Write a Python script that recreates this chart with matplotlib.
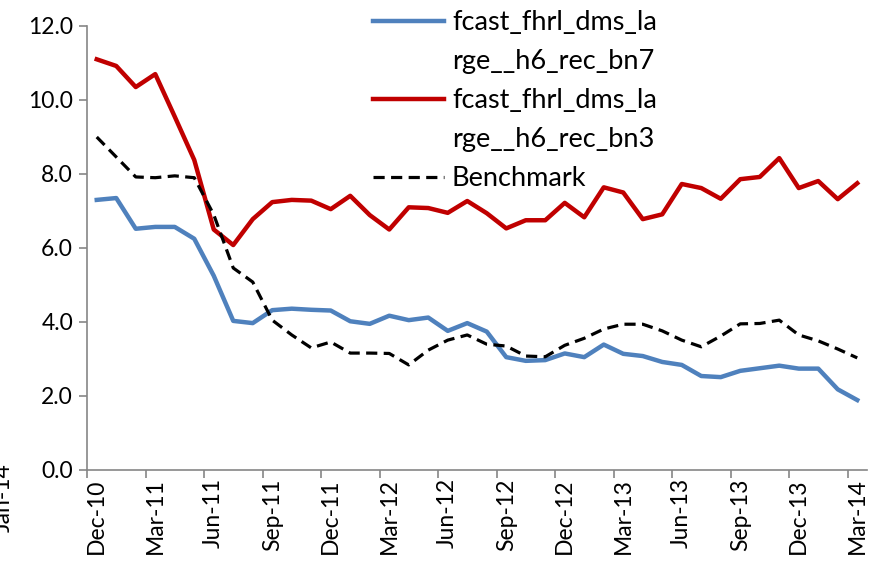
import matplotlib
matplotlib.use("Agg")
import matplotlib.pyplot as plt
from matplotlib.lines import Line2D
import numpy as np

plt.rcParams['font.family'] = ['Lato', 'DejaVu Sans']

# monthly, Dec-10 .. Mar-14
months = ['Dec-10', 'Jan-11', 'Feb-11', 'Mar-11', 'Apr-11', 'May-11', 'Jun-11', 'Jul-11',
          'Aug-11', 'Sep-11', 'Oct-11', 'Nov-11', 'Dec-11', 'Jan-12', 'Feb-12', 'Mar-12',
          'Apr-12', 'May-12', 'Jun-12', 'Jul-12', 'Aug-12', 'Sep-12', 'Oct-12', 'Nov-12',
          'Dec-12', 'Jan-13', 'Feb-13', 'Mar-13', 'Apr-13', 'May-13', 'Jun-13', 'Jul-13',
          'Aug-13', 'Sep-13', 'Oct-13', 'Nov-13', 'Dec-13', 'Jan-14', 'Feb-14', 'Mar-14']

bn7 = [7.30, 7.35, 6.52, 6.57, 6.57, 6.25, 5.25, 4.03, 3.97, 4.32,
       4.36, 4.33, 4.31, 4.02, 3.95, 4.17, 4.05, 4.12, 3.76, 3.97,
       3.74, 3.05, 2.95, 2.97, 3.15, 3.05, 3.39, 3.14, 3.08, 2.92,
       2.84, 2.54, 2.51, 2.68, 2.75, 2.82, 2.74, 2.74, 2.18, 1.89]

bn3 = [11.10, 10.92, 10.35, 10.70, 9.55, 8.38, 6.50, 6.08, 6.78, 7.24,
       7.30, 7.28, 7.05, 7.41, 6.89, 6.50, 7.10, 7.08, 6.95, 7.27,
       6.94, 6.53, 6.75, 6.75, 7.22, 6.83, 7.64, 7.50, 6.78, 6.91,
       7.73, 7.62, 7.33, 7.86, 7.92, 8.43, 7.62, 7.81, 7.32, 7.75]

bench = [9.00, 8.46, 7.92, 7.90, 7.95, 7.90, 6.90, 5.46, 5.08, 4.05,
         3.65, 3.30, 3.46, 3.16, 3.16, 3.15, 2.84, 3.24, 3.51, 3.65,
         3.40, 3.35, 3.08, 3.06, 3.37, 3.56, 3.81, 3.94, 3.94, 3.76,
         3.51, 3.33, 3.62, 3.95, 3.96, 4.05, 3.65, 3.49, 3.27, 3.03]

# legend text wraps like the original (handle sits on the first line)
legend_rows = ['fcast_fhrl_dms_la', 'rge__h6_rec_bn7',
               'fcast_fhrl_dms_la', 'rge__h6_rec_bn3',
               'Benchmark']

fig = plt.figure(figsize=(8.74, 5.70), dpi=100)
ax = fig.add_axes([87/874, 100/570, 780/874, 444/570])

x = np.arange(len(months))
l1, = ax.plot(x, bn7, color='#4F81BD', lw=3.2, solid_joinstyle='round')
l2, = ax.plot(x, bn3, color='#C00000', lw=3.2, solid_joinstyle='round')
l3, = ax.plot(x, bench, color='black', lw=2.3, linestyle=(0, (3.5, 2)))

ax.set_xlim(-0.5, len(months) - 0.5)
ax.set_ylim(0, 12)
yt = np.arange(0, 12.1, 2)
ax.set_yticks(yt)
ax.set_yticklabels(['%.1f' % v for v in yt], fontsize=16.5)

ax.set_xticks(x[::3])
ax.set_xticklabels(months[::3], rotation=90, fontsize=16.5)
ax.tick_params(axis='x', which='major', length=0, pad=6)
ax.set_xticks(np.arange(-0.5, len(months), 3), minor=True)
ax.tick_params(axis='x', which='minor', length=6, color='#868686', width=1.2)
ax.tick_params(axis='y', length=6, color='#868686', width=1.2, pad=4)

for s in ['top', 'right']:
    ax.spines[s].set_visible(False)
for s in ['left', 'bottom']:
    ax.spines[s].set_color('#868686')
    ax.spines[s].set_linewidth(1.2)

blank = Line2D([], [], color='none')
fig.legend([l1, blank, l2, blank, l3], legend_rows, loc='upper left',
           bbox_to_anchor=(349/874, 1.025), frameon=False, fontsize=19.5,
           handlelength=2.6, handletextpad=0.3, labelspacing=0.52)

# clipped stray label at the left edge
fig.text(3/874, 1 - 498/570, 'Jan-14', rotation=90, fontsize=16.5, ha='center', va='center')

fig.savefig('out.png', dpi=100)
